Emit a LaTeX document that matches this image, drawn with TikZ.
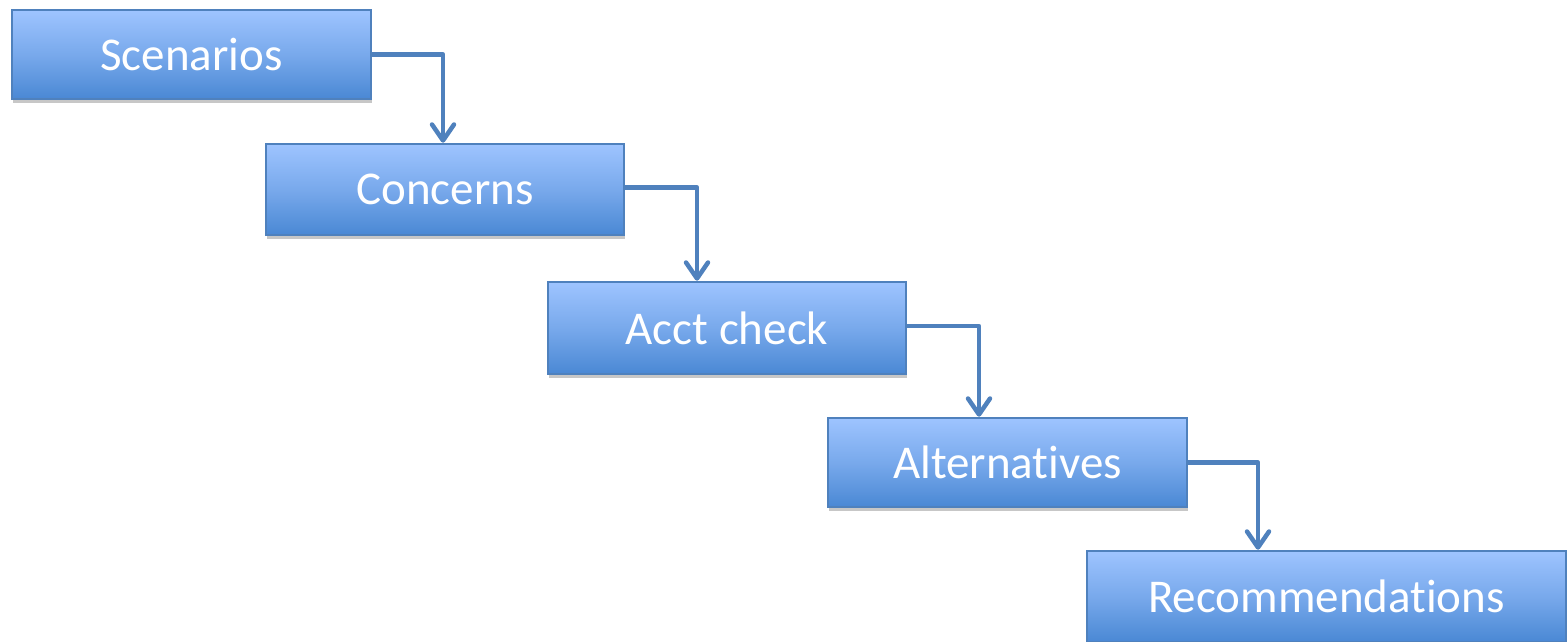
\documentclass[tikz,border=0pt]{standalone}
\usepackage{fontspec}
\setmainfont{Carlito}[Ligatures={NoCommon,NoContextual}]
\usetikzlibrary{arrows.meta,shadows}
\definecolor{edge}{HTML}{4F81BD}
\definecolor{topc}{HTML}{9EC4FF}
\definecolor{botc}{HTML}{4A88D4}
\tikzset{
  stepbox/.style={draw=edge, line width=2.5pt, top color=topc, bottom color=botc,
    middle color=topc!55!botc, inner sep=0pt, text=white,
    font=\fontsize{47}{52}\selectfont,
    drop shadow={shadow xshift=1pt, shadow yshift=-4pt, opacity=0.22, fill=black}},
  flow/.style={draw=edge, line width=4.5pt, line join=round,
    -{Straight Barb[length=16pt, width=22pt, line width=4.5pt, round]}}
}
\begin{document}
\begin{tikzpicture}[x=1pt,y=1pt]
\useasboundingbox (0,0) rectangle (1567,-642);
\node[stepbox, minimum width=359pt, minimum height=89pt] (s) at (191.5,-54.5) {Scenarios};
\node[stepbox, minimum width=358pt, minimum height=91pt] (c) at (445,-189.5) {Concerns};
\node[stepbox, minimum width=358pt, minimum height=92pt] (a) at (727,-328) {Acct check};
\node[stepbox, minimum width=359pt, minimum height=89pt] (l) at (1007.5,-462.5) {Alternatives};
\node[stepbox, minimum width=479pt, minimum height=91pt] (r) at (1326.5,-596.5) {Recommendations};
\draw[flow] (s.east) -| ([xshift=-2pt]c.north);
\draw[flow] ([yshift=2pt]c.east) -| ([xshift=-30pt]a.north);
\draw[flow] ([yshift=2pt]a.east) -| ([xshift=-28.5pt]l.north);
\draw[flow] (l.east) -| ([xshift=-68.5pt]r.north);
\end{tikzpicture}
\end{document}
